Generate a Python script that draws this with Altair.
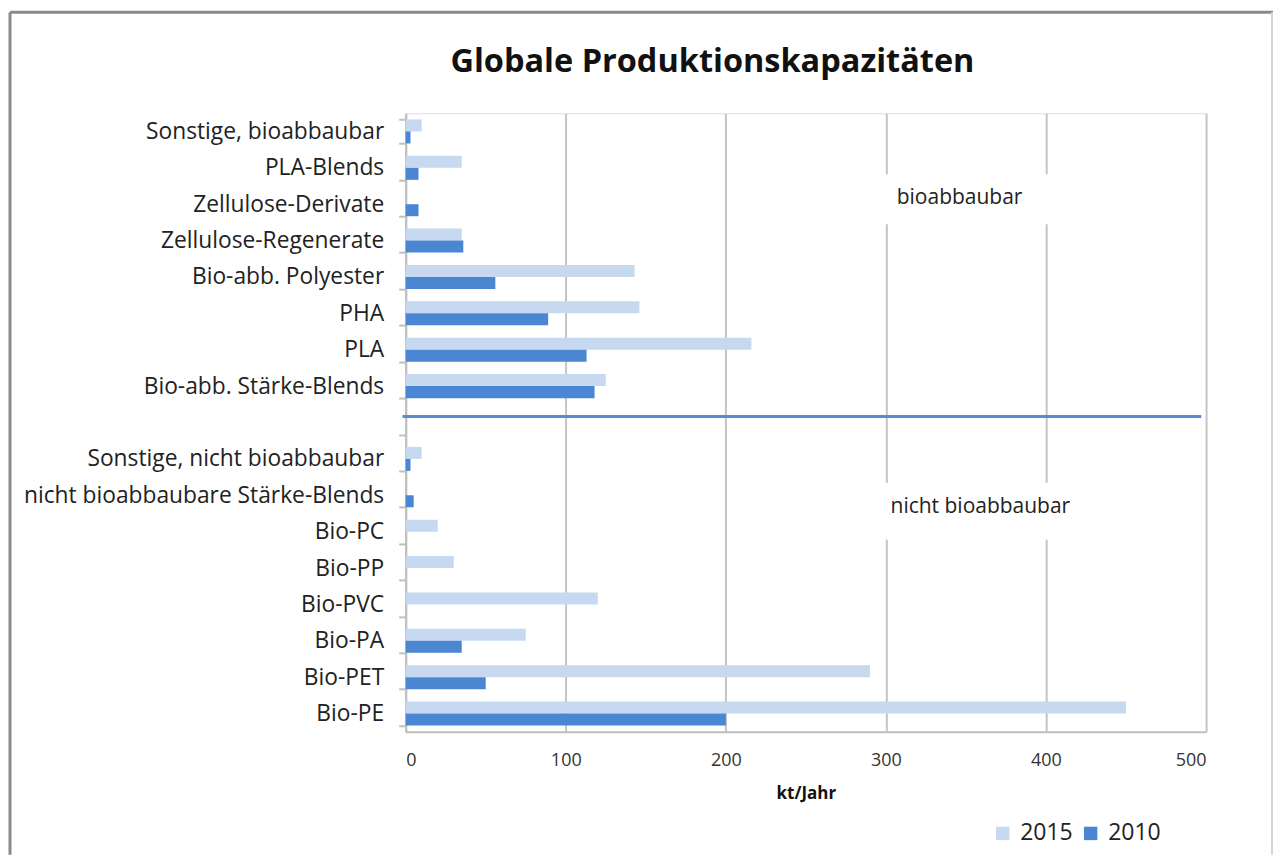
import altair as alt
import pandas as pd

categories = ["Sonstige, bioabbaubar", "PLA-Blends", "Zellulose-Derivate",
              "Zellulose-Regenerate", "Bio-abb. Polyester", "PHA", "PLA",
              "Bio-abb. Stärke-Blends", " ", "Sonstige, nicht bioabbaubar",
              "nicht bioabbaubare Stärke-Blends", "Bio-PC", "Bio-PP", "Bio-PVC",
              "Bio-PA", "Bio-PET", "Bio-PE"]
data_categories = [c for c in categories if c.strip()]
values_2015 = [10, 35, 0, 35, 143, 146, 216, 125, 10, 0, 20, 30, 120, 75, 290, 450]
values_2010 = [3, 8, 8, 36, 56, 89, 113, 118, 3, 5, 0, 0, 0, 35, 50, 200]
years = ["2015", "2010"]
colors = ["#c6d9f1", "#4a86d2"]
x_ticks = [0, 100, 200, 300, 400, 500]
title_text = "Globale Produktionskapazitäten"

FONT = "Open Sans"

rows = []
for c, v15, v10 in zip(data_categories, values_2015, values_2010):
    rows.append({"category": c, "year": "2015", "value": v15})
    rows.append({"category": c, "year": "2010", "value": v10})
df = pd.DataFrame(rows)

y_scale = alt.Scale(domain=categories, paddingInner=0.34, paddingOuter=0.17)
x_scale = alt.Scale(domain=[0, 500], nice=False)

bars = alt.Chart(df).mark_bar().encode(
    y=alt.Y("category:N", scale=y_scale, sort=categories,
            axis=alt.Axis(title=None, labelFontSize=22.8, labelFont=FONT,
                          labelColor="#222222", labelPadding=15,
                          tickBand="extent", tickSize=7, tickColor="#bfbfbf",
                          tickWidth=2, domainColor="#bfbfbf", domainWidth=2,
                          labelLimit=500)),
    x=alt.X("value:Q", scale=x_scale,
            axis=alt.Axis(title="kt/Jahr", values=x_ticks, grid=True,
                          gridColor="#c4c4c4", gridWidth=2, ticks=False,
                          domainColor="#bfbfbf", domainWidth=2,
                          labelFontSize=18, labelFont=FONT, labelColor="#333333",
                          labelPadding=20, titleFont=FONT, titleFontSize=17,
                          titleFontWeight="bold", titlePadding=16,
                          titleColor="#111111")),
    yOffset=alt.YOffset("year:N", sort=years,
                        scale=alt.Scale(domain=years, paddingInner=0, paddingOuter=0)),
    color=alt.Color("year:N", scale=alt.Scale(domain=years, range=colors),
                    legend=alt.Legend(title=None, orient="none", direction="horizontal",
                                      legendX=586, legendY=709,
                                      symbolType="square", symbolSize=180,
                                      symbolStrokeWidth=0, labelFontSize=23,
                                      labelFont=FONT, labelColor="#222222",
                                      labelOffset=6, columnPadding=6)),
)

ann_df = pd.DataFrame({
    "category": ["Zellulose-Derivate", "nicht bioabbaubare Stärke-Blends"],
    "label": ["bioabbaubar", "nicht bioabbaubar"],
    "x": [346, 359],
    "x1": [298.5, 298.5],
    "x2": [401.5, 401.5],
})

box1 = alt.Chart(ann_df.iloc[[0]]).mark_bar(color="white", height=50, yOffset=-5).encode(
    y=alt.Y("category:N", scale=y_scale, sort=categories),
    x=alt.X("x1:Q", scale=x_scale), x2="x2:Q")
box2 = alt.Chart(ann_df.iloc[[1]]).mark_bar(color="white", height=57, yOffset=16).encode(
    y=alt.Y("category:N", scale=y_scale, sort=categories),
    x=alt.X("x1:Q", scale=x_scale), x2="x2:Q")

txt1 = alt.Chart(ann_df.iloc[[0]]).mark_text(fontSize=21, font=FONT, color="#222222",
                                            dy=-6).encode(
    y=alt.Y("category:N", scale=y_scale, sort=categories),
    x=alt.X("x:Q", scale=x_scale), text="label:N")
txt2 = alt.Chart(ann_df.iloc[[1]]).mark_text(fontSize=21, font=FONT, color="#222222",
                                            dy=12).encode(
    y=alt.Y("category:N", scale=y_scale, sort=categories),
    x=alt.X("x:Q", scale=x_scale), text="label:N")

sep_df = pd.DataFrame({"category": [" "], "x1": [-2], "x2": [497]})
sep = alt.Chart(sep_df).mark_rule(color="#5a8bd1", strokeWidth=3, yOffset=-6).encode(
    y=alt.Y("category:N", scale=y_scale, sort=categories),
    x=alt.X("x1:Q", scale=x_scale), x2="x2:Q")

one = pd.DataFrame({"a": [0]})
title_df = pd.DataFrame({"t": [title_text]})
title = alt.Chart(title_df).mark_text(font=FONT, fontSize=32.5, fontWeight="bold",
                                      color="#111111", align="center",
                                      baseline="alphabetic").encode(
    x=alt.value(307), y=alt.value(-41), text="t:N")

frame_col = "#8a8a8a"
frame_top = alt.Chart(one).mark_rule(color=frame_col, strokeWidth=3).encode(
    x=alt.value(-396), x2=alt.value(868), y=alt.value(-101))
frame_left = alt.Chart(one).mark_rule(color=frame_col, strokeWidth=3).encode(
    x=alt.value(-396), y=alt.value(-101), y2=alt.value(742))
frame_right = alt.Chart(one).mark_rule(color="#d6d6d6", strokeWidth=2).encode(
    x=alt.value(867), y=alt.value(-101), y2=alt.value(742))

chart = alt.layer(
    bars, box1, box2, txt1, txt2, sep, title, frame_top, frame_left, frame_right
).properties(
    width=801, height=619,
    padding={"left": 0, "top": 2, "right": 0, "bottom": 0},
).configure_view(stroke="#a6a6a6", strokeWidth=2).configure(background="white")

chart.save("out.html", embed_options={"renderer": "svg", "actions": False})
